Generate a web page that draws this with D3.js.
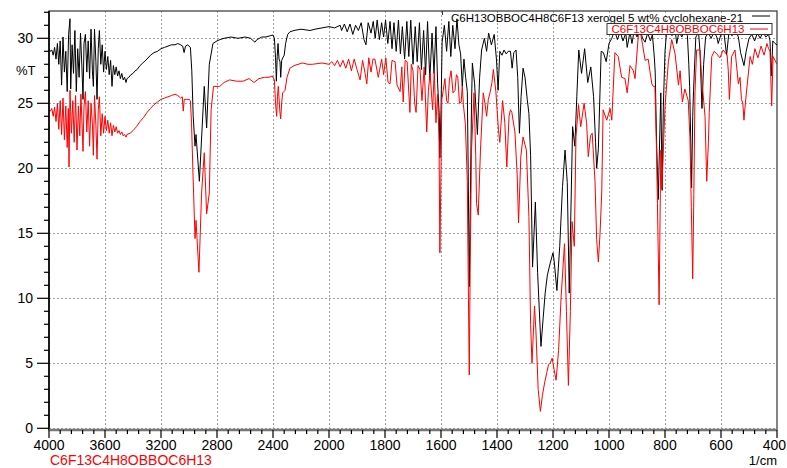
<!DOCTYPE html>
<html>
<head>
<meta charset="utf-8">
<script src="https://cdn.jsdelivr.net/npm/d3@7"></script>
<style>
	body { margin: 0; background: #fff; }
	svg { display: block; font-family: "Liberation Sans", Arial, sans-serif; }
</style>
</head>
<body>
<div id="chart"></div>
<script>
// x ticks (cm-1), y ticks (%T) and legend labels
var xTickValues = [4000, 3600, 3200, 2800, 2400, 2000, 1800, 1600, 1400, 1200, 1000, 800, 600, 400];
var yTickValues = [0, 5, 10, 15, 20, 25, 30];
var seriesNames = ["C6H13OBBOC4H8C6F13 xerogel 5 wt% cyclohexane-21", "C6F13C4H8OBBOC6H13"];
var seriesColors = ["#000000", "#ff0000"];

// black trace: [wavenumber, %T]
var blackSpectrum = [
	[4000,29.2],[3990,29.0],[3980,29.1],[3970,28.7],[3960,29.3],[3950,28.4],[3940,29.6],[3930,28.0],[3920,29.8],[3910,26.4],
	[3900,30.1],[3890,27.4],[3880,29.0],[3870,25.9],[3860,30.3],[3850,31.5],[3845,26.1],[3835,29.5],[3825,27.3],[3815,30.6],
	[3805,25.9],[3795,29.2],[3785,27.0],[3775,30.4],[3765,27.8],[3757,25.3],[3750,29.6],[3740,30.3],[3730,27.4],[3720,29.8],
	[3710,26.9],[3700,30.7],[3690,27.5],[3683,26.3],[3675,30.7],[3665,28.2],[3657,25.3],[3648,29.2],[3640,30.6],[3630,28.0],
	[3620,29.5],[3610,27.4],[3600,29.0],[3590,27.6],[3580,28.6],[3570,27.2],[3560,28.3],[3550,26.3],[3540,27.9],[3530,27.2],
	[3520,27.8],[3510,27.1],[3500,27.5],[3490,26.9],[3480,27.3],[3470,26.8],[3460,27.0],[3450,26.6],[3443,26.9],[3430,27.0],
	[3415,27.2],[3400,27.3],[3385,27.5],[3370,27.6],[3350,27.9],[3330,28.1],[3300,28.4],[3275,28.7],[3250,28.9],[3225,29.0],
	[3200,29.2],[3175,29.3],[3150,29.4],[3125,29.5],[3100,29.5],[3080,29.6],[3060,29.5],[3045,29.4],[3035,28.9],[3025,29.4],
	[3010,29.5],[2990,29.3],[2980,27.5],[2970,24.0],[2957,21.7],[2950,22.6],[2926,19.0],[2891,26.3],[2874,23.1],[2855,28.0],
	[2829,29.6],[2800,29.8],[2779,29.9],[2750,30.0],[2700,30.1],[2650,30.0],[2600,30.1],[2560,30.0],[2540,29.8],[2529,29.7],
	[2515,29.9],[2480,30.1],[2450,30.1],[2420,30.2],[2400,30.25],[2390,30.0],[2382,28.5],[2376,26.7],[2370,28.6],[2364,29.6],
	[2357,28.4],[2350,28.2],[2345,27.0],[2338,28.3],[2330,28.5],[2320,28.7],[2310,29.6],[2295,30.3],[2279,30.5],[2250,30.6],
	[2200,30.7],[2136,30.6],[2100,30.7],[2050,30.8],[2000,30.9],[1980,30.8],[1960,31.0],[1955,30.6],[1945,31.1],[1935,30.5],
	[1925,31.1],[1915,30.3],[1905,31.0],[1895,30.6],[1885,31.2],[1875,29.9],[1868,29.5],[1860,31.2],[1850,30.4],[1842,31.3],
	[1835,30.0],[1828,31.4],[1820,29.9],[1812,31.2],[1805,30.1],[1798,31.4],[1790,29.6],[1782,31.3],[1775,29.2],[1768,31.2],
	[1760,29.0],[1752,31.4],[1745,28.8],[1738,30.9],[1730,28.4],[1722,31.3],[1715,28.6],[1708,31.4],[1700,28.0],[1692,30.9],
	[1685,28.2],[1677,31.2],[1670,27.6],[1662,30.6],[1655,27.2],[1648,31.3],[1640,26.8],[1632,30.4],[1625,27.3],[1618,30.9],
	[1612,26.5],[1606,24.0],[1604,20.8],[1600,24.5],[1596,29.7],[1588,31.0],[1580,29.0],[1572,31.3],[1565,28.6],[1558,31.0],
	[1550,29.2],[1543,31.5],[1536,29.5],[1530,28.8],[1524,26.3],[1518,28.4],[1512,27.0],[1506,25.9],[1503,20.0],[1499,10.9],
	[1495,18.0],[1491,25.0],[1488,28.1],[1480,26.5],[1470,22.6],[1462,27.0],[1455,29.1],[1445,30.0],[1437,29.0],[1430,30.4],
	[1420,29.5],[1410,30.3],[1402,28.4],[1396,26.0],[1390,29.0],[1382,28.7],[1375,29.1],[1367,28.8],[1360,29.0],[1352,29.0],
	[1346,27.7],[1340,28.9],[1332,29.1],[1326,27.0],[1320,22.7],[1314,25.5],[1307,27.7],[1300,27.0],[1292,25.3],[1286,24.2],
	[1280,21.0],[1273,12.4],[1263,17.4],[1255,12.0],[1243,6.3],[1235,8.5],[1228,10.4],[1220,11.8],[1210,12.7],[1200,13.5],
	[1196,12.9],[1186,10.6],[1176,14.0],[1166,18.6],[1157,21.4],[1149,18.9],[1142,10.4],[1130,23.2],[1122,21.7],[1115,25.5],
	[1108,29.1],[1098,27.3],[1087,29.2],[1076,26.6],[1065,27.8],[1055,25.5],[1048,22.0],[1044,20.0],[1038,21.5],[1028,29.0],
	[1020,28.9],[1010,28.2],[1000,29.6],[990,30.0],[980,30.6],[970,29.9],[960,30.5],[950,29.8],[940,30.4],[935,29.3],
	[925,30.5],[918,29.6],[910,30.6],[900,30.1],[890,30.7],[880,30.0],[871,29.7],[862,30.4],[852,29.8],[845,30.3],
	[838,28.5],[835,27.4],[830,22.0],[824,17.6],[820,21.4],[815,25.8],[810,18.3],[806,24.7],[800,29.0],[795,30.3],
	[785,30.6],[775,30.2],[765,30.8],[758,29.6],[750,30.5],[740,30.1],[730,30.6],[720,30.2],[715,28.0],[712,26.3],
	[708,22.0],[705,18.5],[701,24.0],[698,26.0],[690,30.1],[680,30.4],[675,29.0],[668,24.6],[662,28.0],[655,30.1],
	[645,30.4],[635,30.0],[625,30.5],[615,30.1],[610,29.6],[600,30.3],[590,30.5],[580,28.7],[572,30.4],[560,30.2],
	[548,30.6],[538,30.1],[530,28.9],[518,27.9],[510,29.0],[500,30.0],[490,30.3],[480,29.8],[470,30.4],[460,30.0],
	[450,30.5],[440,30.1],[430,30.3],[425,29.8],[420,27.1],[415,29.8],[407,29.6],[400,29.5]
];

// red trace: [wavenumber, %T]
var redSpectrum = [
	[4000,24.5],[3990,24.4],[3980,24.6],[3970,24.0],[3960,24.7],[3950,23.6],[3940,25.0],[3930,23.0],[3920,25.2],[3910,22.6],
	[3900,25.4],[3890,22.2],[3880,24.8],[3870,21.6],[3862,24.6],[3857,20.1],[3850,26.0],[3840,22.7],[3830,25.2],[3820,22.0],
	[3810,25.6],[3800,21.4],[3790,24.8],[3780,22.5],[3772,25.7],[3764,23.4],[3757,21.3],[3750,24.8],[3740,25.9],[3730,22.8],
	[3720,25.2],[3710,21.7],[3700,25.0],[3690,23.4],[3683,21.0],[3675,25.6],[3665,23.3],[3657,20.7],[3648,24.5],[3640,25.5],
	[3630,22.5],[3620,24.2],[3610,22.7],[3600,24.0],[3590,22.9],[3580,23.7],[3570,22.7],[3560,23.5],[3550,22.5],[3540,23.3],
	[3530,22.8],[3520,23.2],[3510,22.7],[3500,22.9],[3490,22.6],[3480,22.8],[3470,22.5],[3460,22.6],[3450,22.4],[3443,22.6],
	[3420,22.7],[3400,22.9],[3375,23.2],[3350,23.6],[3325,23.9],[3300,24.3],[3275,24.6],[3250,24.9],[3225,25.1],[3200,25.3],
	[3175,25.4],[3150,25.5],[3125,25.6],[3100,25.7],[3080,25.6],[3060,25.4],[3048,25.5],[3041,24.4],[3034,25.3],[3016,25.3],
	[3000,25.3],[2990,25.2],[2982,23.5],[2971,19.4],[2957,14.6],[2950,16.0],[2929,12.0],[2910,18.1],[2891,21.2],[2874,16.5],
	[2855,18.1],[2842,24.5],[2825,26.3],[2780,26.3],[2750,26.6],[2710,26.8],[2660,26.7],[2614,26.7],[2571,26.9],[2536,26.6],
	[2500,26.9],[2460,27.0],[2429,27.0],[2405,27.1],[2390,26.8],[2382,25.0],[2374,24.0],[2368,25.5],[2362,26.3],[2352,24.5],
	[2345,23.8],[2338,25.0],[2331,25.8],[2314,26.0],[2300,27.0],[2279,27.7],[2250,27.9],[2190,28.1],[2150,28.0],[2119,28.0],
	[2050,28.1],[2000,28.0],[1990,28.2],[1980,27.9],[1970,28.3],[1960,27.8],[1950,28.3],[1940,27.7],[1930,28.4],[1920,27.5],
	[1910,28.4],[1900,27.6],[1889,26.8],[1880,28.3],[1871,27.3],[1865,26.5],[1858,28.5],[1850,27.4],[1843,28.4],[1836,28.4],
	[1824,27.0],[1812,28.4],[1805,27.2],[1797,28.5],[1789,26.6],[1782,26.5],[1775,28.3],[1764,28.2],[1757,26.4],[1746,25.9],
	[1740,27.8],[1735,25.1],[1728,28.3],[1721,28.2],[1711,24.3],[1706,28.0],[1700,27.5],[1694,25.0],[1689,24.3],[1682,27.9],
	[1675,27.6],[1668,25.2],[1660,27.8],[1651,22.8],[1645,26.0],[1639,27.3],[1630,24.5],[1624,27.5],[1618,23.5],[1612,25.7],
	[1607,22.0],[1604,13.5],[1600,20.0],[1597,25.3],[1592,26.0],[1586,26.9],[1580,25.2],[1575,25.0],[1570,26.8],[1564,27.5],
	[1557,25.8],[1550,26.0],[1545,27.2],[1540,27.0],[1534,25.0],[1528,25.1],[1524,26.3],[1520,24.9],[1513,23.4],[1506,19.0],
	[1502,10.0],[1499,4.1],[1496,12.0],[1491,21.4],[1482,25.8],[1476,21.0],[1473,17.3],[1467,16.4],[1459,21.4],[1449,25.8],
	[1443,25.0],[1437,24.0],[1431,25.3],[1425,25.8],[1418,26.6],[1413,27.6],[1404,25.9],[1395,23.0],[1390,22.0],[1380,25.2],
	[1372,23.5],[1365,20.1],[1357,24.0],[1352,24.5],[1347,24.3],[1336,22.8],[1328,19.5],[1323,15.8],[1315,20.9],[1307,22.4],
	[1295,21.4],[1286,16.3],[1280,8.0],[1275,5.0],[1266,9.4],[1261,7.5],[1253,3.0],[1245,1.3],[1238,2.5],[1230,3.5],
	[1222,4.3],[1216,4.9],[1210,5.0],[1203,5.4],[1196,4.5],[1189,3.7],[1180,6.0],[1171,10.1],[1159,14.2],[1152,9.0],
	[1145,3.3],[1138,9.0],[1132,15.9],[1124,14.0],[1118,22.4],[1109,24.9],[1101,23.2],[1089,25.0],[1080,23.5],[1074,20.9],
	[1066,22.5],[1060,22.7],[1050,19.0],[1044,14.5],[1038,12.8],[1032,15.0],[1026,18.1],[1021,24.5],[1008,23.7],[996,24.6],
	[990,23.7],[979,28.9],[967,28.6],[955,27.0],[943,26.9],[935,25.8],[925,27.9],[913,27.5],[907,26.9],[895,30.3],
	[889,30.6],[880,29.5],[871,28.3],[860,28.4],[854,27.5],[847,26.5],[842,26.3],[836,26.3],[831,22.0],[827,17.3],
	[821,9.5],[815,21.4],[811,18.4],[805,22.0],[800,24.7],[788,28.2],[776,29.9],[764,28.8],[752,26.4],[746,27.5],
	[738,25.1],[729,26.1],[717,25.2],[711,22.4],[706,17.0],[701,11.5],[697,18.0],[693,25.8],[687,29.1],[675,29.1],
	[669,26.9],[657,24.0],[651,19.0],[645,22.0],[642,24.3],[633,28.6],[624,29.0],[615,28.8],[604,28.5],[592,29.1],
	[578,28.7],[574,27.5],[570,25.3],[562,28.6],[550,29.1],[538,26.5],[532,27.0],[527,25.3],[522,25.0],[518,23.7],
	[513,25.0],[508,26.1],[496,28.6],[488,28.0],[479,29.2],[468,28.5],[457,29.4],[446,28.7],[436,29.6],[430,29.2],
	[425,29.0],[419,24.8],[414,28.6],[407,28.3],[400,28.0]
];

var width = 787, height = 468;
var plot = {left: 49, right: 777, top: 11, bottom: 430};

var svg = d3.select("#chart").append("svg")
	.attr("width", width)
	.attr("height", height);

// 4000-2000 is drawn at half the scale of 2000-400
var x = d3.scaleLinear()
	.domain([4000, 2000, 400])
	.range([plot.left, 329, plot.right]);

var y = d3.scaleLinear()
	.domain([0, 30])
	.range([428.3, 38.3]);

svg.append("clipPath").attr("id", "clip")
	.append("rect")
		.attr("x", plot.left)
		.attr("y", plot.top)
		.attr("width", plot.right - plot.left)
		.attr("height", plot.bottom - plot.top);

// grid
var grid = svg.append("g").attr("class", "grid")
	.attr("stroke", "#a0a0a0")
	.attr("stroke-dasharray", "2,2")
	.attr("shape-rendering", "crispEdges");

grid.selectAll(".hgrid")
	.data(yTickValues)
	.enter().append("line")
		.attr("x1", plot.left)
		.attr("x2", plot.right)
		.attr("y1", function(d){ return Math.round(y(d)) + 0.5; })
		.attr("y2", function(d){ return Math.round(y(d)) + 0.5; });

grid.selectAll(".vgrid")
	.data(xTickValues.filter(function(d){ return d != 4000 && d != 400; }))
	.enter().append("line")
		.attr("x1", function(d){ return Math.round(x(d)) + 0.5; })
		.attr("x2", function(d){ return Math.round(x(d)) + 0.5; })
		.attr("y1", plot.top)
		.attr("y2", plot.bottom);

// frame
svg.append("rect")
	.attr("x", plot.left)
	.attr("y", plot.top)
	.attr("width", plot.right - plot.left)
	.attr("height", plot.bottom - plot.top)
	.attr("fill", "none")
	.attr("stroke", "#333")
	.attr("stroke-width", 1.2);

// spectra
var line = d3.line()
	.x(function(d){ return x(d[0]); })
	.y(function(d){ return y(d[1]); });

var traces = svg.append("g").attr("clip-path", "url(#clip)");

[blackSpectrum, redSpectrum].forEach(function(data, i)
{
	traces.append("path")
		.datum(data)
		.attr("fill", "none")
		.attr("stroke", seriesColors[i])
		.attr("stroke-width", 1)
		.attr("stroke-linejoin", "round")
		.attr("d", line);
});

// y axis
var yAxis = svg.append("g");

yAxis.append("line")
	.attr("x1", plot.left).attr("x2", plot.left)
	.attr("y1", plot.top).attr("y2", plot.bottom)
	.attr("stroke", "#000")
	.attr("stroke-width", 1.6);

yAxis.selectAll(".minor")
	.data(d3.range(0, 33, 1))
	.enter().append("line")
		.attr("x1", function(d){ return d % 5 == 0 ? 37 : 44; })
		.attr("x2", plot.left)
		.attr("y1", function(d){ return y(d); })
		.attr("y2", function(d){ return y(d); })
		.attr("stroke", "#000")
		.attr("stroke-width", 1.2);

yAxis.selectAll(".label")
	.data(yTickValues)
	.enter().append("text")
		.attr("x", 33)
		.attr("y", function(d){ return y(d); })
		.attr("dy", "0.36em")
		.attr("text-anchor", "end")
		.attr("font-size", 14)
		.text(function(d){ return d; });

svg.append("text")
	.attr("x", 16)
	.attr("y", 75)
	.attr("font-size", 13)
	.text("%T");

// x axis
var xAxis = svg.append("g");

xAxis.append("line")
	.attr("x1", plot.left).attr("x2", plot.right)
	.attr("y1", plot.bottom).attr("y2", plot.bottom)
	.attr("stroke", "#777")
	.attr("stroke-width", 2.5);

var minorTicks = d3.range(4000, 2000, -80).concat(d3.range(2000, 399, -40));

xAxis.selectAll(".minor")
	.data(minorTicks)
	.enter().append("line")
		.attr("x1", function(d){ return x(d); })
		.attr("x2", function(d){ return x(d); })
		.attr("y1", plot.bottom)
		.attr("y2", function(d){ return xTickValues.indexOf(d) >= 0 ? 438 : 434; })
		.attr("stroke", "#000")
		.attr("stroke-width", 1.2);

xAxis.selectAll(".label")
	.data(xTickValues)
	.enter().append("text")
		.attr("x", function(d){ return d == 400 ? 786 : x(d); })
		.attr("y", 450)
		.attr("text-anchor", function(d){ return d == 400 ? "end" : "middle"; })
		.attr("font-size", 14)
		.text(function(d){ return d; });

svg.append("text")
	.attr("x", 777)
	.attr("y", 465)
	.attr("text-anchor", "end")
	.attr("font-size", 13)
	.text("1/cm");

svg.append("text")
	.attr("x", 50)
	.attr("y", 465)
	.attr("fill", seriesColors[1])
	.attr("font-size", 14)
	.text(seriesNames[1]);

// legend
var legend = svg.append("g");

legend.append("line")
	.attr("x1", 442.5).attr("x2", 442.5)
	.attr("y1", plot.top).attr("y2", 15)
	.attr("stroke", "#333");

legend.append("text")
	.attr("x", 451)
	.attr("y", 21.5)
	.attr("font-size", 11.5)
	.attr("fill", seriesColors[0])
	.text(seriesNames[0]);

legend.append("line")
	.attr("x1", 752).attr("x2", 770)
	.attr("y1", 16).attr("y2", 16)
	.attr("stroke", seriesColors[0]);

legend.append("rect")
	.attr("x", 607)
	.attr("y", 23.5)
	.attr("width", 165)
	.attr("height", 11)
	.attr("fill", "#fff")
	.attr("stroke", "#333")
	.attr("stroke-width", 1);

legend.append("text")
	.attr("x", 611.5)
	.attr("y", 32.5)
	.attr("font-size", 11.5)
	.attr("fill", seriesColors[1])
	.text(seriesNames[1]);

legend.append("line")
	.attr("x1", 750).attr("x2", 768)
	.attr("y1", 29).attr("y2", 29)
	.attr("stroke", seriesColors[1]);
</script>
</body>
</html>
